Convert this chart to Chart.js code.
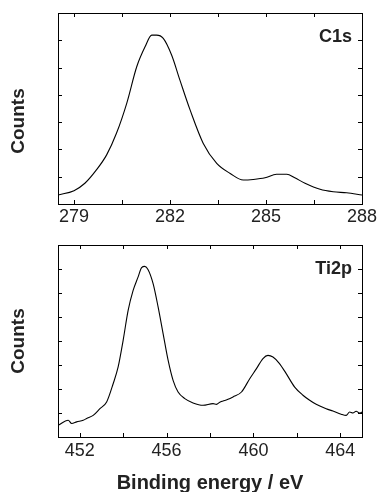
<!DOCTYPE html>
<html>
<head>
<meta charset="utf-8">
<script src="https://cdn.jsdelivr.net/npm/chart.js@4/dist/chart.umd.min.js"></script>
<style>
  html, body { margin: 0; padding: 0; background: #fff; }
  #wrap { position: relative; width: 380px; height: 492px; }
  #c1s { position: absolute; left: 0; top: 0; }
  #ti2p { position: absolute; left: 0; top: 232px; }
</style>
</head>
<body>
<div id="wrap">
  <canvas id="c1s" width="380" height="232"></canvas>
  <canvas id="ti2p" width="380" height="260"></canvas>
</div>
<script>
// C1s spectrum (binding energy eV / counts, arbitrary units)
const c1sEnergy = [278.5, 279.0, 279.34, 279.7, 280.02, 280.33, 280.65, 280.96, 281.22, 281.43,
                   281.58, 281.79, 282.05, 282.31, 282.63, 283.04, 283.46, 283.88, 284.29, 284.6,
                   284.97, 285.33, 285.65, 285.9, 286.22, 286.69, 287.1, 287.52, 288.0];
const c1sCounts = [0.33, 0.49, 0.76, 1.25, 1.8, 2.6, 3.7, 5.03, 5.76, 6.19,
                   6.19, 6.07, 5.46, 4.54, 3.44, 2.22, 1.49, 1.12, 0.88, 0.9,
                   0.96, 1.09, 1.09, 0.96, 0.76, 0.54, 0.45, 0.41, 0.33];
const c1sTicks = [279, 280.5, 282, 283.5, 285, 286.5, 288];
const c1sLabels = [279, 282, 285, 288];

// Ti2p spectrum
const ti2pEnergy = [451.01, 451.47, 451.63, 451.86, 452.16, 452.32, 452.62, 452.93, 453.24, 453.54,
                    453.77, 454.0, 454.23, 454.46, 454.69, 454.85, 455.0, 455.15, 455.38, 455.61,
                    455.84, 456.07, 456.3, 456.53, 456.84, 457.22, 457.68, 458.14, 458.3, 458.45,
                    458.6, 458.8, 459.06, 459.45, 459.83, 460.14, 460.44, 460.67, 460.9, 461.2,
                    461.51, 461.9, 462.28, 462.59, 462.89, 463.35, 463.66, 464.04, 464.27, 464.43,
                    464.58, 464.73, 464.89, 465.0];
const ti2pCounts = [0.49, 0.70, 0.56, 0.63, 0.70, 0.77, 0.9, 1.18, 1.46, 2.22,
                    2.92, 4.03, 5.28, 6.11, 6.67, 7.06, 7.11, 6.97, 6.39, 5.42,
                    4.31, 3.2, 2.36, 1.875, 1.6, 1.42, 1.32, 1.39, 1.36, 1.45,
                    1.5, 1.56, 1.67, 1.875, 2.43, 2.85, 3.27, 3.40, 3.33, 3.06,
                    2.64, 2.08, 1.74, 1.53, 1.36, 1.18, 1.08, 0.95, 0.9, 1.04,
                    1.0, 1.07, 1.0, 1.04];
const ti2pTicks = [452, 454, 456, 458, 460, 462, 464];
const ti2pLabels = [452, 456, 460, 464];

const textColor = '#222';
const tickFont = { family: 'Liberation Sans, Arial, sans-serif', size: 18 };

// frame + inward ticks on all four sides
const innerTicks = {
    id: 'innerTicks',
    afterDatasetsDraw(chart) {
        const {ctx, chartArea: a, scales: {x, y}} = chart;
        const len = 4;
        ctx.save();
        ctx.strokeStyle = '#000';
        ctx.lineWidth = 1;
        ctx.strokeRect(a.left + 0.5, a.top + 0.5, a.right - a.left, a.bottom - a.top);
        ctx.beginPath();
        x.ticks.forEach(t => {
            const px = Math.round(x.getPixelForValue(t.value)) + 0.5;
            ctx.moveTo(px, a.bottom); ctx.lineTo(px, a.bottom - len);
            ctx.moveTo(px, a.top); ctx.lineTo(px, a.top + len);
        });
        y.ticks.forEach(t => {
            const py = Math.round(y.getPixelForValue(t.value)) + 0.5;
            ctx.moveTo(a.left, py); ctx.lineTo(a.left + len, py);
            ctx.moveTo(a.right, py); ctx.lineTo(a.right - len, py);
        });
        ctx.stroke();
        ctx.restore();
    }
};

// panel name and the rotated "Counts" label
const panelText = {
    id: 'panelText',
    afterDraw(chart, args, opts) {
        const {ctx, chartArea: a} = chart;
        ctx.save();
        ctx.fillStyle = textColor;
        ctx.font = 'bold 18px "Liberation Sans", Arial, sans-serif';
        ctx.textAlign = 'right';
        ctx.textBaseline = 'alphabetic';
        ctx.fillText(opts.name, a.right - 10, a.top + opts.nameY);
        ctx.translate(19, opts.countsY);
        ctx.rotate(-Math.PI / 2);
        ctx.font = 'bold 19px "Liberation Sans", Arial, sans-serif';
        ctx.textAlign = 'center';
        ctx.textBaseline = 'middle';
        ctx.fillText('Counts', 0, 0);
        ctx.restore();
    }
};

function spectrum(id, energy, counts, xmin, xmax, ymax, ticks, labels, cfg) {
    return new Chart(id, {
        type: 'line',
        data: {
            datasets: [{
                data: energy.map((e, i) => ({x: e, y: counts[i]})),
                borderColor: '#000',
                borderWidth: 1.1,
                pointRadius: 0,
                fill: false,
                cubicInterpolationMode: 'monotone',
            }]
        },
        options: {
            responsive: false,
            animation: false,
            layout: { padding: { top: 13, right: 18, left: 0, bottom: 0 } },
            scales: {
                x: {
                    type: 'linear',
                    min: xmin,
                    max: xmax,
                    afterBuildTicks: s => { s.ticks = ticks.map(v => ({value: v})); },
                    afterFit: s => { s.height = cfg.xHeight; },
                    grid: { display: false, drawTicks: false },
                    border: { display: false },
                    ticks: {
                        autoSkip: false,
                        maxRotation: 0,
                        padding: cfg.tickPad,
                        color: textColor,
                        font: tickFont,
                        callback: v => labels.includes(v) ? String(v) : '',
                    },
                    title: {
                        display: !!cfg.xTitle,
                        text: cfg.xTitle || '',
                        color: textColor,
                        padding: { top: 0, bottom: -3 },
                        font: { family: 'Liberation Sans, Arial, sans-serif', size: 20, weight: 'bold' },
                    },
                },
                y: {
                    min: 0,
                    max: ymax,
                    ticks: { display: false, stepSize: 1 },
                    grid: { display: false, drawTicks: false },
                    border: { display: false },
                    afterFit: s => { s.width = 58; },
                },
            },
            plugins: {
                legend: { display: false },
                tooltip: { enabled: false },
                panelText: { name: cfg.name, nameY: cfg.nameY, countsY: cfg.countsY },
            },
        },
        plugins: [innerTicks, panelText],
    });
}

spectrum('c1s', c1sEnergy, c1sCounts, 278.5, 288, 7, c1sTicks, c1sLabels,
    { xHeight: 28, tickPad: 2, name: 'C1s', nameY: 29, countsY: 121 });
spectrum('ti2p', ti2pEnergy, ti2pCounts, 451, 465, 8, ti2pTicks, ti2pLabels,
    { xHeight: 55, tickPad: 3, name: 'Ti2p', nameY: 29, countsY: 109, xTitle: 'Binding energy / eV' });
</script>
</body>
</html>
